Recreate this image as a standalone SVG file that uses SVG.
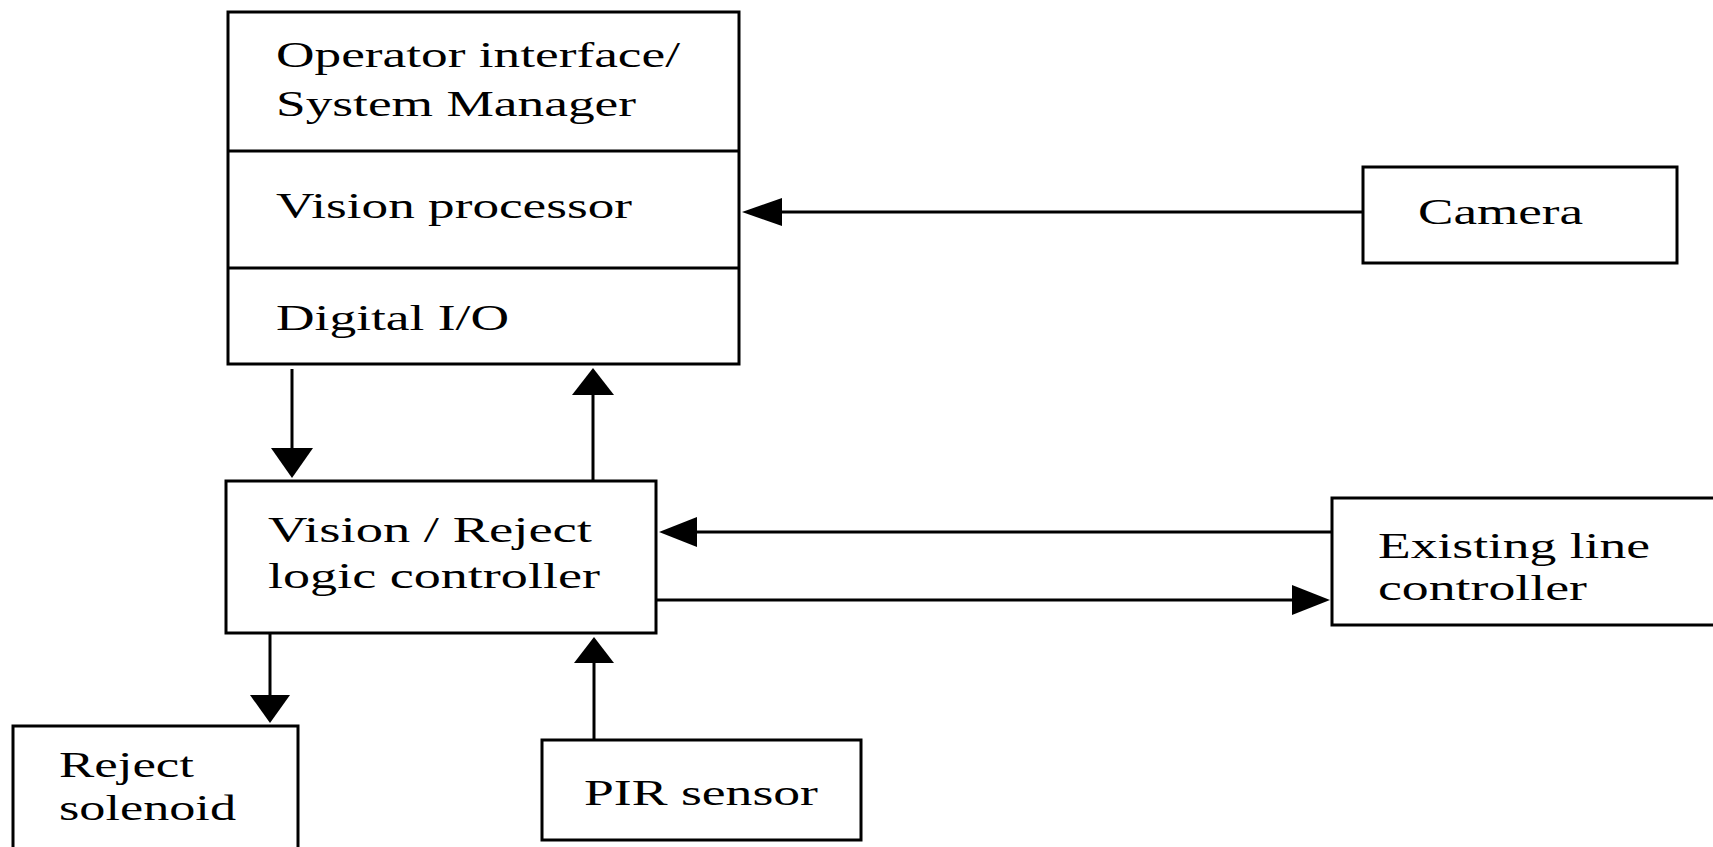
<svg xmlns="http://www.w3.org/2000/svg" width="1713" height="847" viewBox="0 0 1713 847">
<style>
.box{fill:#fff;stroke:#000;stroke-width:3}
.ln{stroke:#000;stroke-width:3;fill:none}
.ah{fill:#000;stroke:none}
text{font-family:"Liberation Serif","Times New Roman",serif;font-size:35px;fill:#000}
</style>
<rect width="1713" height="847" fill="#fff"/>
<g id="main">
<rect class="box" x="228" y="12" width="511" height="352"/>
<line class="ln" x1="228" y1="151" x2="739" y2="151"/>
<line class="ln" x1="228" y1="268" x2="739" y2="268"/>
<text x="276" y="67" textLength="404" lengthAdjust="spacingAndGlyphs">Operator interface/</text>
<text x="276" y="116" textLength="360" lengthAdjust="spacingAndGlyphs">System Manager</text>
<text x="276" y="218" textLength="356" lengthAdjust="spacingAndGlyphs">Vision processor</text>
<text x="276" y="330" textLength="233" lengthAdjust="spacingAndGlyphs">Digital I/O</text>
</g>
<g id="camera">
<rect class="box" x="1363" y="167" width="314" height="96"/>
<text x="1418" y="224" textLength="165" lengthAdjust="spacingAndGlyphs">Camera</text>
</g>
<g id="vision-reject">
<rect class="box" x="226" y="481" width="430" height="152"/>
<text x="268" y="542" textLength="324" lengthAdjust="spacingAndGlyphs">Vision / Reject</text>
<text x="268" y="588" textLength="332" lengthAdjust="spacingAndGlyphs">logic controller</text>
</g>
<g id="existing">
<rect class="box" x="1332" y="498" width="390" height="127"/>
<text x="1378" y="558" textLength="272" lengthAdjust="spacingAndGlyphs">Existing line</text>
<text x="1378" y="600" textLength="209" lengthAdjust="spacingAndGlyphs">controller</text>
</g>
<g id="reject-solenoid">
<rect class="box" x="13" y="726" width="285" height="130"/>
<text x="59" y="777" textLength="135" lengthAdjust="spacingAndGlyphs">Reject</text>
<text x="59" y="820" textLength="177" lengthAdjust="spacingAndGlyphs">solenoid</text>
</g>
<g id="pir">
<rect class="box" x="542" y="740" width="319" height="100"/>
<text x="584" y="805" textLength="234" lengthAdjust="spacingAndGlyphs">PIR sensor</text>
</g>
<g id="connectors">
<line class="ln" x1="1363" y1="212" x2="780" y2="212"/>
<polygon class="ah" points="742,212 782,198 782,226"/>
<line class="ln" x1="292" y1="369" x2="292" y2="450"/>
<polygon class="ah" points="271,448 313,448 292,478"/>
<line class="ln" x1="593" y1="481" x2="593" y2="393"/>
<polygon class="ah" points="572,395 614,395 593,368"/>
<line class="ln" x1="1332" y1="532" x2="695" y2="532"/>
<polygon class="ah" points="659,532 697,517 697,547"/>
<line class="ln" x1="656" y1="600" x2="1294" y2="600"/>
<polygon class="ah" points="1292,585 1292,615 1330,600"/>
<line class="ln" x1="270" y1="633" x2="270" y2="697"/>
<polygon class="ah" points="250,695 290,695 270,723"/>
<line class="ln" x1="594" y1="740" x2="594" y2="661"/>
<polygon class="ah" points="574,663 614,663 594,637"/>
</g>
</svg>
